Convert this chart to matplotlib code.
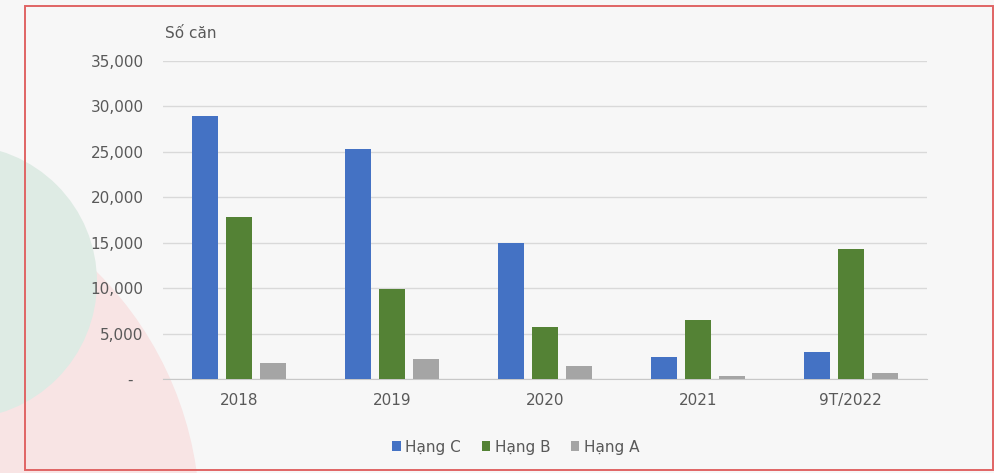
import matplotlib.pyplot as plt
import numpy as np
from matplotlib.patches import Ellipse, Rectangle
from matplotlib.ticker import FuncFormatter

years = ["2018", "2019", "2020", "2021", "9T/2022"]
hang_c = [29000, 25300, 15000, 2400, 3000]
hang_b = [17800, 9900, 5700, 6500, 14300]
hang_a = [1800, 2200, 1400, 350, 650]

series = [("Hạng C", hang_c, "#4472C4"),
          ("Hạng B", hang_b, "#548235"),
          ("Hạng A", hang_a, "#A5A5A5")]

TEXT_COLOR = "#595959"
W, H = 995, 473

plt.rcParams["font.family"] = ["DejaVu Sans"]

fig = plt.figure(figsize=(W / 100, H / 100), dpi=100, facecolor="#f7f7f7")

# soft background shapes on the left side
fig.add_artist(Ellipse((-150 / W, 1 - 520 / H), 700 / W, 700 / H,
                       transform=fig.transFigure, color="#f8e4e4", lw=0, zorder=0))
fig.add_artist(Ellipse((-40 / W, 1 - 282 / H), 274 / W, 274 / H,
                       transform=fig.transFigure, color="#deebe4", lw=0, zorder=0))

# red frame
fig.add_artist(Rectangle((25 / W, 1 - 470 / H), 968 / W, 464 / H,
                         transform=fig.transFigure, fill=False,
                         edgecolor="#e06464", lw=1.4, zorder=1))

ax = fig.add_axes([163 / W, 1 - 379 / H, 764 / W, 318 / H])
ax.set_facecolor("none")

x = np.arange(len(years))
width = 0.17
step = 0.222
for i, (name, vals, color) in enumerate(series):
    ax.bar(x + (i - 1) * step, vals, width, color=color, label=name, zorder=3)

ax.set_xlim(-0.5, len(years) - 0.5)
ax.set_ylim(0, 35000)
ax.set_yticks(range(0, 35001, 5000))
ax.yaxis.set_major_formatter(FuncFormatter(lambda v, p: "-  " if v == 0 else f"{int(v):,}"))
ax.set_xticks(x)
ax.set_xticklabels(years)

ax.grid(axis="y", color="#d9d9d9", lw=1, zorder=0)
for s in ["top", "right", "left"]:
    ax.spines[s].set_visible(False)
ax.spines["bottom"].set_color("#c8c8c8")
ax.tick_params(axis="y", length=0, pad=14, labelsize=11, labelcolor=TEXT_COLOR)
ax.tick_params(axis="x", length=0, pad=10, labelsize=11, labelcolor=TEXT_COLOR)

fig.text(165 / W, 1 - 33 / H, "Số căn", fontsize=11, color=TEXT_COLOR, va="center", ha="left")

fig.legend(loc="center", bbox_to_anchor=(516 / W, 1 - 447 / H), ncol=3, frameon=False,
           fontsize=11, labelcolor=TEXT_COLOR, handlelength=0.55, handleheight=0.55,
           handletextpad=0.3, columnspacing=1.35)

plt.savefig("out.png", dpi=100, facecolor=fig.get_facecolor())
